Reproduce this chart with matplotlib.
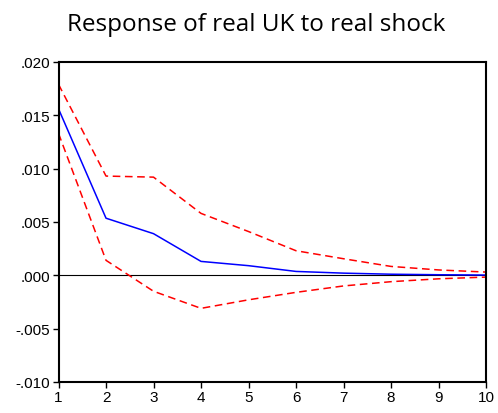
import matplotlib
matplotlib.use('Agg')
from matplotlib import pyplot as plt
import numpy as np

periods = [1, 2, 3, 4, 5, 6, 7, 8, 9, 10]
response = [0.0156, 0.00535, 0.0039, 0.0013, 0.0009, 0.00036, 0.0002, 0.0001, 0.00005, 0.00002]
upper = [0.0179, 0.0093, 0.0092, 0.0058, 0.0041, 0.0023, 0.00155, 0.00083, 0.0005, 0.0003]
lower = [0.0133, 0.0014, -0.0015, -0.0031, -0.0023, -0.0016, -0.0010, -0.0006, -0.00033, -0.00017]
yticks = [-0.010, -0.005, 0.000, 0.005, 0.010, 0.015, 0.020]


def fmt(v):
    s = f'{v:.3f}'
    return s.replace('0.', '.', 1)


fig = plt.figure(figsize=(4.98, 4.14), dpi=100)
ax = fig.add_axes([0.1175, 0.075, 0.8585, 0.773])

ax.axhline(0, color='black', lw=0.8)
ax.plot(periods, upper, color='#ff0000', lw=1.1, ls=(0, (5, 3)))
ax.plot(periods, lower, color='#ff0000', lw=1.1, ls=(0, (5, 3)))
ax.plot(periods, response, color='#0000ff', lw=1.1)

ax.set_xlim(1, 10)
ax.set_ylim(-0.010, 0.020)
ax.set_xticks(periods)
ax.set_yticks(yticks)
ax.set_yticklabels([fmt(v) for v in yticks])
ax.tick_params(labelsize=11, length=4, width=1, direction='out', pad=2)
for lab in ax.get_xticklabels() + ax.get_yticklabels():
    lab.set_fontfamily('Liberation Sans')
for sp in ax.spines.values():
    sp.set_linewidth(1.5)

fig.text(0.515, 0.926, 'Response of real UK to real shock', ha='center', va='baseline',
         fontsize=17.5, family='Open Sans')

fig.savefig('out.png', dpi=100)
